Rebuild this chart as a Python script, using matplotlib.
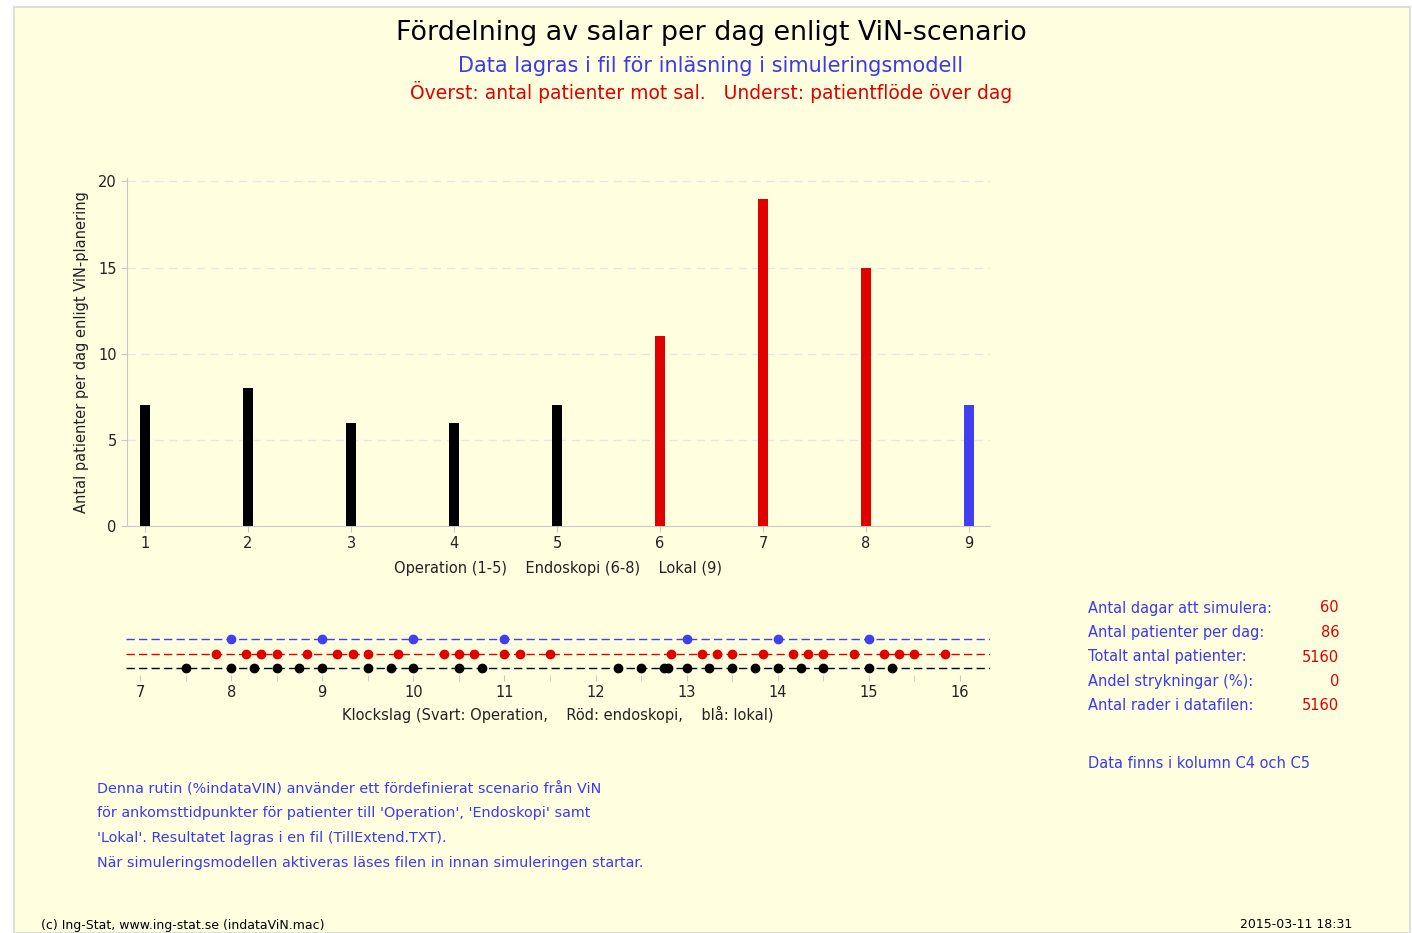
import matplotlib.pyplot as plt
from matplotlib.patches import Rectangle

# antal patienter per sal (1-5 operation, 6-8 endoskopi, 9 lokal)
salar = [1, 2, 3, 4, 5, 6, 7, 8, 9]
antal = [7, 8, 6, 6, 7, 11, 19, 15, 7]
bar_farg = ['black'] * 5 + ['#E00000'] * 3 + ['#4040F0']

# ankomsttider (klockslag i timmar)
tider_svart = [7.5, 8.0, 8.25, 8.5, 8.75, 9.0, 9.5, 9.75, 10.0, 10.5, 10.75,
               12.25, 12.5, 12.75, 12.8, 13.0, 13.25, 13.5, 13.75, 14.0,
               14.25, 14.5, 15.0, 15.25]
tider_rod = [7.833, 8.167, 8.333, 8.5, 8.833, 9.167, 9.333, 9.5, 9.833,
             10.333, 10.5, 10.667, 11.0, 11.167, 11.5, 12.833, 13.167,
             13.333, 13.5, 13.833, 14.167, 14.333, 14.5, 14.833, 15.167,
             15.333, 15.5, 15.833]
tider_bla = [8, 9, 10, 11, 13, 14, 15]
klockslag = list(range(7, 17))

info_text = ['Antal dagar att simulera:', 'Antal patienter per dag:',
             'Totalt antal patienter:', 'Andel strykningar (%):',
             'Antal rader i datafilen:']
info_varde = ['60', '86', '5160', '0', '5160']

BG = '#FFFFE0'
BLUE_TXT = '#3A3AEE'
RED = '#E00000'
W, H = 1412, 933

fig = plt.figure(figsize=(W / 100, H / 100), dpi=100, facecolor='white')
fig.patches.append(Rectangle((14 / W, 0), (1410 - 14) / W, 1 - 7 / H,
                             transform=fig.transFigure, facecolor=BG,
                             edgecolor='#D8D8D8', linewidth=1.2, zorder=-5))

def fx(px):
    return px / W

def fy(py):
    return 1 - py / H

fig.text(fx(711), fy(33), 'Fördelning av salar per dag enligt ViN-scenario',
         ha='center', va='center', fontsize=19.4, color='black')
fig.text(fx(711), fy(66), 'Data lagras i fil för inläsning i simuleringsmodell',
         ha='center', va='center', fontsize=15, color=BLUE_TXT)
fig.text(fx(711), fy(92), 'Överst: antal patienter mot sal.   Underst: patientflöde över dag',
         ha='center', va='center', fontsize=13.5, color=RED)

# stapeldiagram
ax = fig.add_axes([fx(127), fy(526), fx(990 - 127), (526 - 178) / H])
ax.set_facecolor('none')
ax.bar(salar, antal, width=0.1, color=bar_farg, zorder=3)
ax.set_xlim(0.825, 9.204)
ax.set_ylim(0, 20.2)
ax.set_yticks([0, 5, 10, 15, 20])
ax.set_xticks(salar)
for v in [5, 10, 15, 20]:
    ax.axhline(v, color='#E6E6E6', linestyle=(0, (6, 4)), linewidth=1, zorder=1)
for s in ['top', 'right']:
    ax.spines[s].set_visible(False)
for s in ['left', 'bottom']:
    ax.spines[s].set_color('#C8C8C8')
ax.tick_params(colors='#C8C8C8', labelcolor='#222222', labelsize=10.5, length=4)
ax.set_xlabel('Operation (1-5)    Endoskopi (6-8)    Lokal (9)',
              fontsize=10.5, color='#222222', labelpad=7)
ax.set_ylabel('Antal patienter per dag enligt ViN-planering',
              fontsize=10.5, color='#222222', labelpad=6.5)

# flöde över dag
ax2 = fig.add_axes([fx(126), fy(675), fx(990 - 126), 47 / H])
ax2.set_facecolor('none')
ax2.set_xlim(6.846, 16.33)
ax2.set_ylim(-0.48, 2.76)
dash = (0, (6, 3))
ax2.axhline(2, color='#4040F0', linestyle=dash, linewidth=1, zorder=1)
ax2.axhline(1, color=RED, linestyle=dash, linewidth=1, zorder=1)
ax2.axhline(0, color='black', linestyle=dash, linewidth=1, zorder=1)
ax2.plot(tider_bla, [2] * len(tider_bla), 'o', color='#4040F0', markersize=6, zorder=3)
ax2.plot(tider_rod, [1] * len(tider_rod), 'o', color=RED, markersize=6, zorder=3)
ax2.plot(tider_svart, [0] * len(tider_svart), 'o', color='black', markersize=6, zorder=3)
ax2.set_xticks(klockslag)
ax2.set_xticks([k + 0.5 for k in klockslag[:-1]], minor=True)
ax2.set_yticks([])
for s in ax2.spines.values():
    s.set_visible(False)
ax2.tick_params(axis='x', which='both', colors='#C8C8C8', labelcolor='#222222',
                labelsize=10.5, length=4)
ax2.set_xlabel('Klockslag (Svart: Operation,    Röd: endoskopi,    blå: lokal)',
               fontsize=10.5, color='#222222', labelpad=4)

# informationsruta
for i, (t, v) in enumerate(zip(info_text, info_varde)):
    y = 608 + i * 24.5
    fig.text(fx(1088), fy(y), t, ha='left', va='center', fontsize=10.5, color=BLUE_TXT)
    fig.text(fx(1339), fy(y), v, ha='right', va='center', fontsize=10.5, color=RED)
fig.text(fx(1088), fy(763), 'Data finns i kolumn C4 och C5', ha='left', va='center',
         fontsize=10.5, color=BLUE_TXT)

beskrivning = [
    'Denna rutin (%indataVIN) använder ett fördefinierat scenario från ViN',
    "för ankomsttidpunkter för patienter till 'Operation', 'Endoskopi' samt",
    "'Lokal'. Resultatet lagras i en fil (TillExtend.TXT).",
    'När simuleringsmodellen aktiveras läses filen in innan simuleringen startar.',
]
for i, rad in enumerate(beskrivning):
    fig.text(fx(97), fy(789 + i * 24.5), rad, ha='left', va='center',
             fontsize=10.4, color=BLUE_TXT)

fig.text(fx(41), fy(925), '(c) Ing-Stat, www.ing-stat.se (indataViN.mac)',
         ha='left', va='center', fontsize=9, color='black')
fig.text(fx(1352), fy(925), '2015-03-11 18:31', ha='right', va='center',
         fontsize=9, color='black')

fig.savefig('out.png', dpi=100, facecolor='white')
